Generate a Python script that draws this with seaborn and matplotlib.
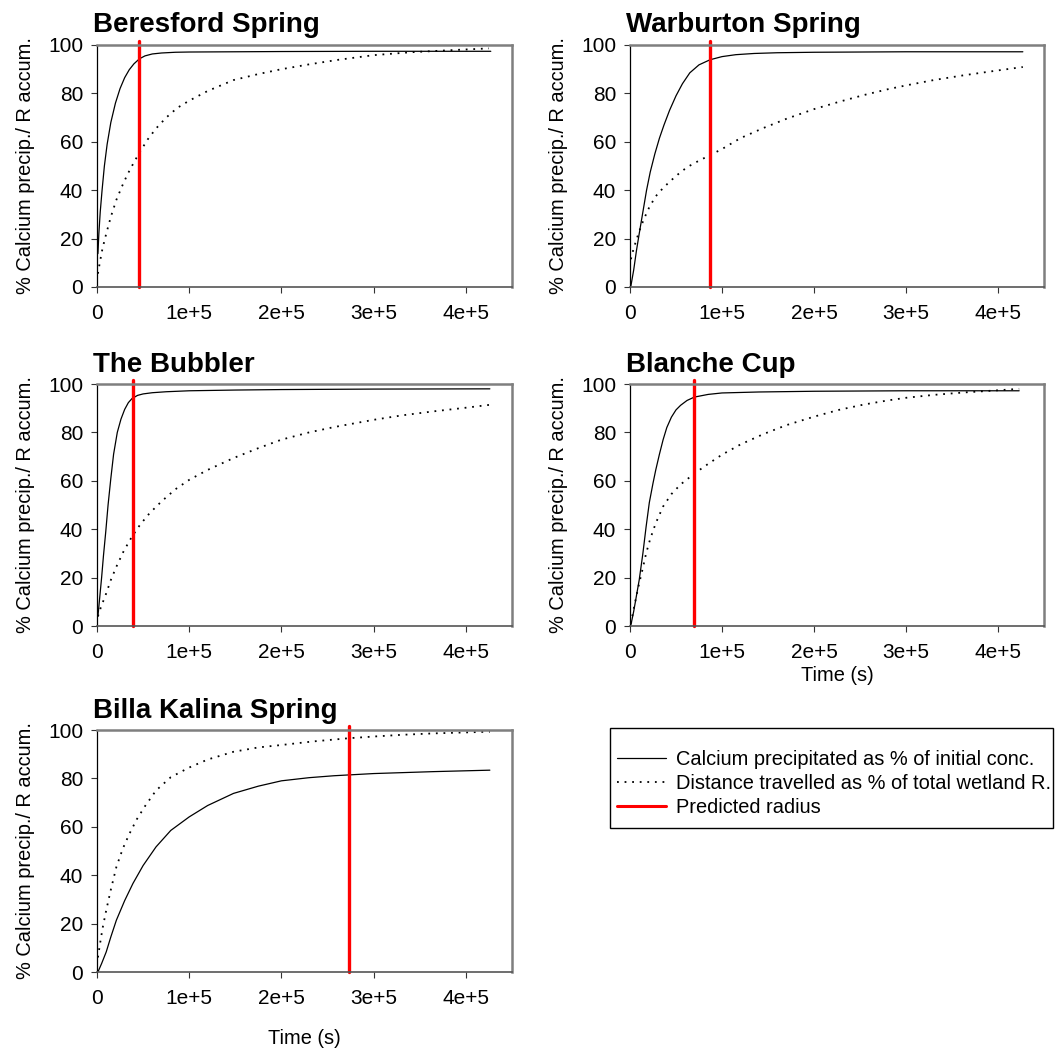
import pandas as pd
import matplotlib
matplotlib.use("Agg")
import matplotlib.pyplot as plt
import seaborn as sns
from matplotlib.lines import Line2D
from matplotlib.patches import Rectangle
from matplotlib.ticker import FixedLocator, FuncFormatter

# values (time in s, % values)
SITES = ["Beresford Spring", "Warburton Spring", "The Bubbler", "Blanche Cup", "Billa Kalina Spring"]

beresford_t_ca = [1e3, 2e3, 3.5e3, 5.5e3, 8e3, 1.1e4, 1.5e4, 2e4, 2.5e4, 3e4, 3.5e4, 4e4, 4.6e4,
                  5.2e4, 6e4, 7e4, 8.5e4, 1e5, 1.5e5, 2e5, 3e5, 4.27e5]
beresford_ca = [13.8, 22, 31, 40, 50, 59, 68, 76, 82, 86.5, 89.8, 92.2, 94.3,
                95.5, 96.3, 96.7, 97, 97.1, 97.2, 97.3, 97.4, 97.4]
beresford_t_d = [1e3, 3e3, 6e3, 1e4, 1.5e4, 2.1e4, 2.7e4, 3.3e4, 4e4, 4.6e4, 5.5e4, 6.4e4, 7.5e4,
                 8.7e4, 1e5, 1.2e5, 1.48e5, 1.75e5, 2e5, 2.3e5, 2.6e5, 3e5, 3.4e5, 3.8e5, 4.25e5]
beresford_d = [5.5, 10, 16, 22, 29, 36, 41.5, 46.5, 51.5, 55.5, 61, 65.5, 70,
               74, 77, 81, 85.5, 88, 90, 92, 93.8, 95.8, 97, 97.8, 98.6]

warburton_t_ca = [1e3, 4e3, 7e3, 1e4, 1.4e4, 1.8e4, 2.2e4, 2.7e4, 3.2e4, 3.7e4, 4.3e4, 5e4, 5.7e4,
                  6.5e4, 7.5e4, 8.7e4, 1e5, 1.15e5, 1.35e5, 1.6e5, 2e5, 2.5e5, 3e5, 4.27e5]
warburton_ca = [0.5, 7, 15, 22, 31, 40, 47.5, 55, 61.5, 67, 73, 79, 84,
                88.5, 91.8, 93.9, 95.2, 96, 96.5, 96.8, 97, 97.1, 97.2, 97.2]
warburton_t_d = [1e3, 4e3, 7e3, 1e4, 1.5e4, 2.1e4, 2.8e4, 3.5e4, 4.3e4, 5.2e4, 6.2e4, 7.4e4, 8.7e4,
                 1e5, 1.2e5, 1.45e5, 1.7e5, 2e5, 2.27e5, 2.54e5, 2.8e5, 3e5, 3.3e5, 3.63e5, 4e5, 4.27e5]
warburton_d = [11.5, 16, 19.5, 23, 28, 33, 37.5, 40.5, 43.5, 46.5, 49.5, 52, 54.5,
               57, 61.5, 65.7, 69.5, 73.5, 76.5, 79.3, 81.7, 83.3, 85.5, 87.5, 89.5, 90.9]

bubbler_t_ca = [1e3, 3e3, 5e3, 7e3, 9.5e3, 1.2e4, 1.5e4, 1.8e4, 2.2e4, 2.6e4, 3e4, 3.4e4, 3.8e4,
                4.4e4, 5e4, 6e4, 7.5e4, 1e5, 1.5e5, 2e5, 3e5, 4.26e5]
bubbler_ca = [4, 12, 20, 29, 39, 50, 61, 71, 80, 85.5, 89.5, 92.3, 94,
              95.3, 95.9, 96.4, 96.8, 97.2, 97.5, 97.7, 97.9, 98]
bubbler_t_d = [1e3, 4e3, 7e3, 1e4, 1.5e4, 2.1e4, 2.9e4, 3.8e4, 4.7e4, 5.7e4, 7e4, 8.5e4, 1e5,
               1.2e5, 1.48e5, 1.75e5, 2e5, 2.3e5, 2.57e5, 3e5, 3.3e5, 3.65e5, 4e5, 4.26e5]
bubbler_d = [4, 7.5, 10.5, 13.5, 19, 24.5, 31, 37, 42, 46.6, 51.5, 56.5, 60.4,
             64.5, 69.4, 73.5, 77, 80, 82.2, 85.2, 87, 88.7, 90.2, 91.4]

blanche_t_ca = [1e3, 4e3, 7e3, 1e4, 1.4e4, 1.75e4, 2.1e4, 2.5e4, 2.8e4, 3.2e4, 3.6e4, 4e4, 4.5e4,
                5e4, 5.5e4, 6.2e4, 7e4, 8.5e4, 1e5, 1.4e5, 2e5, 3e5, 4.23e5]
blanche_ca = [0.5, 6, 12.5, 19, 30, 41, 51, 59, 64.5, 71, 77, 82, 86.3,
              89.3, 91.2, 93.2, 94.6, 95.7, 96.3, 96.7, 97, 97.2, 97.2]
blanche_t_d = [1e3, 4e3, 7e3, 1e4, 1.4e4, 1.75e4, 2.2e4, 2.8e4, 3.6e4, 4.5e4, 5.5e4, 7e4, 8.5e4,
               1e5, 1.2e5, 1.45e5, 1.7e5, 2e5, 2.27e5, 2.54e5, 2.8e5, 3e5, 3.3e5, 3.63e5, 4e5, 4.23e5]
blanche_d = [1, 7, 12.5, 17.7, 24, 30, 36, 42.5, 49.4, 54.5, 58.5, 63, 67,
             70.8, 75, 79.3, 83, 86.5, 89.3, 91.5, 93.2, 94.3, 95.5, 96.5, 97.4, 98]

billa_t_ca = [1e3, 5e3, 1e4, 1.5e4, 2.1e4, 3e4, 3.9e4, 5e4, 6.4e4, 8e4, 1e5, 1.2e5, 1.48e5,
              1.75e5, 2e5, 2.3e5, 2.57e5, 3e5, 3.65e5, 4.26e5]
billa_ca = [0, 3.5, 8.3, 14.5, 21.4, 29.5, 36.6, 44, 51.7, 58.5, 64.1, 68.8, 73.8,
            76.8, 79, 80.3, 81.1, 82, 82.8, 83.4]
billa_t_d = [1e3, 3e3, 6e3, 1e4, 1.5e4, 2.1e4, 2.8e4, 3.5e4, 4.3e4, 5.2e4, 6.4e4, 8e4, 1e5,
             1.2e5, 1.48e5, 1.75e5, 2e5, 2.35e5, 2.73e5, 3e5, 3.3e5, 3.65e5, 4e5, 4.26e5]
billa_d = [6, 11, 18, 25.5, 34, 43.4, 51, 57, 63, 68.5, 75, 80.5, 84.5,
           87.8, 91, 92.8, 93.8, 95.3, 96.6, 97.3, 98, 98.6, 99, 99.3]

predicted_radius_t = [4.6e4, 8.7e4, 3.9e4, 7.0e4, 2.73e5]

CA_T = [beresford_t_ca, warburton_t_ca, bubbler_t_ca, blanche_t_ca, billa_t_ca]
CA_V = [beresford_ca, warburton_ca, bubbler_ca, blanche_ca, billa_ca]
D_T = [beresford_t_d, warburton_t_d, bubbler_t_d, blanche_t_d, billa_t_d]
D_V = [beresford_d, warburton_d, bubbler_d, blanche_d, billa_d]

LEGEND_LABELS = ["Calcium precipitated as % of initial conc.",
                 "Distance travelled as % of total wetland R.",
                 "Predicted radius"]

sns.set_theme(style="white")
plt.rcParams["font.family"] = ["Liberation Sans", "DejaVu Sans"]
plt.rcParams["text.color"] = "black"
plt.rcParams["axes.labelcolor"] = "black"
plt.rcParams["xtick.color"] = "black"
plt.rcParams["ytick.color"] = "black"

W, H = 1061, 1052
fig = plt.figure(figsize=(W / 100, H / 100), dpi=100)

# axes boxes in pixels: left, top, right, bottom
boxes = [(97, 45, 512, 287), (630, 45, 1044, 287),
         (97, 384, 512, 626), (630, 384, 1044, 626),
         (97, 730, 512, 972)]

DOTTED = (0, (1, 3.2))
RED = "#ff0000"


def sci_label(v, pos):
    if v == 0:
        return "0"
    return f"{int(round(v / 1e5))}e+5"


for i, site in enumerate(SITES):
    l, t, r, b = boxes[i]
    ax = fig.add_axes([l / W, 1 - b / H, (r - l) / W, (b - t) / H])
    ca = pd.DataFrame({"t": CA_T[i], "v": CA_V[i]})
    dd = pd.DataFrame({"t": D_T[i], "v": D_V[i]})
    sns.lineplot(data=ca, x="t", y="v", ax=ax, color="black", lw=0.9)
    sns.lineplot(data=dd, x="t", y="v", ax=ax, color="black", lw=1.3, linestyle=DOTTED)
    ax.axvline(predicted_radius_t[i], ymin=0, ymax=1.017, color=RED, lw=2.4, clip_on=False)

    ax.set_xlim(0, 4.5e5)
    ax.set_ylim(0, 100)
    ax.xaxis.set_major_locator(FixedLocator([0, 1e5, 2e5, 3e5, 4e5]))
    ax.xaxis.set_major_formatter(FuncFormatter(sci_label))
    ax.set_yticks([0, 20, 40, 60, 80, 100])
    ax.tick_params(axis="both", which="major", direction="out", length=4, width=0.8,
                   color="#333333", labelsize=15, pad=6, left=True, bottom=True)
    ax.tick_params(axis="x", pad=8)
    for side in ["top", "right"]:
        ax.spines[side].set_color("#7f7f7f")
        ax.spines[side].set_linewidth(1.8)
    ax.spines["left"].set_color("black")
    ax.spines["left"].set_linewidth(0.9)
    ax.spines["bottom"].set_color("#555555")
    ax.spines["bottom"].set_linewidth(1.2)

    ax.set_ylabel("% Calcium precip./ R accum.", fontsize=14.4, labelpad=9)
    ax.set_xlabel("")
    ax.set_title(site, fontsize=20, fontweight="bold", loc="left", pad=9, x=-0.01)

    if i == 3:
        ax.set_xlabel("Time (s)", fontsize=14.4, labelpad=3)
    if i == 4:
        ax.set_xlabel("Time (s)", fontsize=14.4, labelpad=15)

# legend box drawn as a figure rectangle, entries placed inside it
fig.patches.append(Rectangle((610 / W, 1 - 828 / H), 443 / W, 100 / H,
                             transform=fig.transFigure, fill=False,
                             edgecolor="black", lw=1.0))
handles = [Line2D([], [], color="black", lw=0.9),
           Line2D([], [], color="black", lw=1.3, linestyle=DOTTED),
           Line2D([], [], color=RED, lw=2.2)]
fig.legend(handles, LEGEND_LABELS, loc="upper left",
           bbox_to_anchor=(617 / W, 1 - 750 / H), fontsize=14.4,
           frameon=False, handlelength=2.45, handletextpad=0.5,
           borderpad=0, labelspacing=0.25, borderaxespad=0)

fig.savefig("out.png", dpi=100, facecolor="white")
